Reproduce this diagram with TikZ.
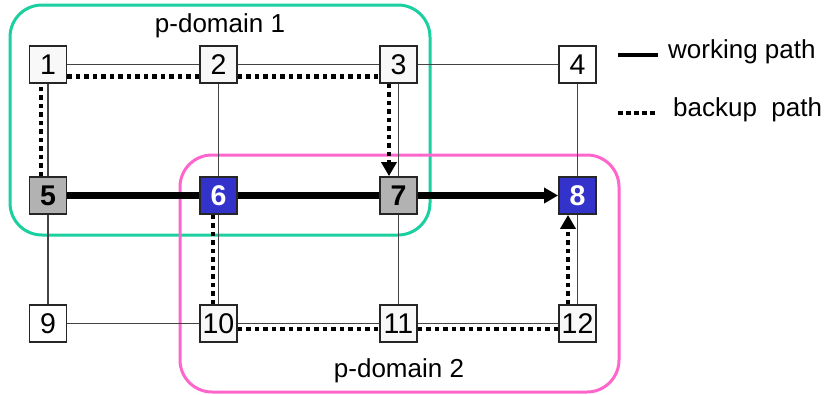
\documentclass[tikz,border=0pt]{standalone}
\usepackage{fontspec}
\setmainfont{Liberation Sans}
\usetikzlibrary{arrows.meta}
\definecolor{dgreen}{HTML}{1CCF9F}
\definecolor{dpink}{HTML}{FF66CC}
\definecolor{nblue}{HTML}{3333CC}
\definecolor{ngray}{HTML}{B2B2B2}
\definecolor{nlight}{HTML}{F8F8F8}
\definecolor{thinc}{HTML}{444444}
\tikzset{
  nd/.style={draw=black!85, line width=1.8pt, minimum size=37pt, inner sep=0pt, font=\fontsize{28.5}{28.5}\selectfont, fill=white},
  litenode/.style={nd, fill=nlight},
  greynode/.style={nd, fill=ngray, font=\fontsize{28.5}{28.5}\selectfont\bfseries},
  bluenode/.style={nd, fill=nblue, text=white, font=\fontsize{28.5}{28.5}\selectfont\bfseries},
  ghost/.style={nd, draw=none, fill=none, text opacity=0},
  linkline/.style={draw=thinc, line width=1.3pt},
  workline/.style={draw=black, line width=6.5pt},
  backupline/.style={draw=black, line width=4.5pt, dash pattern=on 4.5pt off 4pt},
  arrowend/.style={-{Triangle[width=15pt,length=14pt]}},
  dombox/.style={line width=3pt, rounded corners=32pt},
  lbl/.style={font=\fontsize{26}{26}\selectfont, inner sep=0pt},
}
\begin{document}
\begin{tikzpicture}[x=1pt,y=-1pt]
\useasboundingbox (0,0) rectangle (825,394);
% domains
\draw[dombox, draw=dgreen] (10,5) rectangle (430,235);
\draw[dombox, draw=dpink] (180,155) rectangle (619,392);
% node positions (invisible anchors)
\node[ghost] (n1) at (48,64.5) {1};
\node[ghost] (n2) at (218.5,64.5) {2};
\node[ghost] (n3) at (398.5,64.5) {3};
\node[ghost] (n4) at (577.5,64.5) {4};
\node[ghost] (n5) at (48,195.5) {5};
\node[ghost] (n6) at (218.5,195.5) {6};
\node[ghost] (n7) at (398.5,195.5) {7};
\node[ghost] (n8) at (577.5,195.5) {8};
\node[ghost] (n9) at (48,323.5) {9};
\node[ghost] (n10) at (218.5,323.5) {10};
\node[ghost] (n11) at (398.5,323.5) {11};
\node[ghost] (n12) at (577.5,323.5) {12};
% thin links
\draw[linkline] (n1) -- (n2);
\draw[linkline] (n2) -- (n3);
\draw[linkline] (n3) -- (n4);
\draw[linkline] (n1) -- (n5);
\draw[linkline] (n2) -- (n6);
\draw[linkline] (n3) -- (n7);
\draw[linkline] (n4) -- (n8);
\draw[linkline] (n5) -- (n9);
\draw[linkline] (n6) -- (n10);
\draw[linkline] (n7) -- (n11);
\draw[linkline] (n8) -- (n12);
\draw[linkline] (n9) -- (n10);
\draw[linkline] (n10) -- (n11);
\draw[linkline] (n11) -- (n12);
% backup paths
\draw[backupline] ([xshift=-7pt]n5.north) -- ([xshift=-7pt]n1.south);
\draw[backupline] ([yshift=-12pt]n1.east) -- ([yshift=-12pt]n2.west);
\draw[backupline] ([yshift=-12pt]n2.east) -- ([yshift=-12pt]n3.west);
\draw[backupline, arrowend] ([xshift=-9.5pt]n3.south) -- ([xshift=-9.5pt]n7.north);
\draw[backupline] ([xshift=-5.5pt]n6.south) -- ([xshift=-5.5pt]n10.north);
\draw[backupline] ([yshift=-5.5pt]n10.east) -- ([yshift=-5.5pt]n11.west);
\draw[backupline] ([yshift=-5.5pt]n11.east) -- ([yshift=-5.5pt]n12.west);
\draw[backupline, arrowend] ([xshift=-9.5pt]n12.north) -- ([xshift=-9.5pt]n8.south);
% working path
\draw[workline] (n5) -- (n6);
\draw[workline] (n6) -- (n7);
\draw[workline, arrowend] (n7) -- (n8);
% visible nodes
\node[litenode] at (n1) {1};
\node[litenode] at (n2) {2};
\node[litenode] at (n3) {3};
\node[nd] at (n4) {4};
\node[greynode] at (n5) {5};
\node[bluenode] at (n6) {6};
\node[greynode] at (n7) {7};
\node[bluenode] at (n8) {8};
\node[nd] at (n9) {9};
\node[litenode] at (n10) {10};
\node[litenode] at (n11) {11};
\node[litenode] at (n12) {12};
% labels
\node[lbl] (d1) at (220,26) {p-domain 1};
\node[lbl] (d2) at (399,371) {p-domain 2};
% legend
\coordinate (wa) at (618,55);
\coordinate (wb) at (658,55);
\coordinate (ba) at (618,113);
\coordinate (bb) at (658,113);
\draw[draw=black, line width=4pt] (wa) -- (wb);
\draw[draw=black, line width=4.5pt, dash pattern=on 4.5pt off 3.5pt] (ba) -- (bb);
\node[lbl, anchor=west] (lw) at (668,52) {working path};
\node[lbl, anchor=west] (lb) at (673,110) {backup\ \ path};
\end{tikzpicture}
\end{document}
